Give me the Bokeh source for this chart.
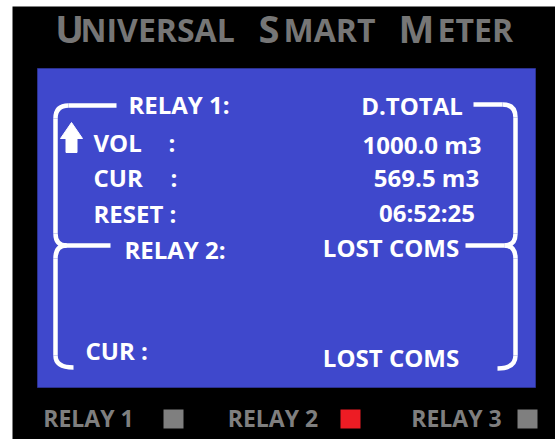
from bokeh.plotting import figure
from bokeh.models import Range1d
from bokeh.embed import file_html
from bokeh.resources import INLINE
from bokeh.core.properties import value

# ---- content ----
title_big = ["U", "S", "M"]
title_small = ["NIVERSAL", "MART", "ETER"]
relay1_label = "RELAY 1:"
relay2_label = "RELAY 2:"
total_label = "D.TOTAL"
row_labels = ["VOL", "CUR", "RESET :"]
row_colons = [":", ":", ""]
row_values = ["1000.0 m3", "569.5 m3", "06:52:25"]
relay2_status = "LOST COMS"
relay2_cur_label = "CUR :"
relay2_cur_value = "LOST COMS"
relay_names = ["RELAY 1", "RELAY 2", "RELAY 3"]
relay_colors = ["#7F7F7F", "#ED1C24", "#7F7F7F"]

FONT = value("Open Sans")
BLUE = "#3F48CC"
GREY = "#767676"

p = figure(width=555, height=439, x_range=Range1d(0, 555), y_range=Range1d(439, 0),
           output_backend="svg", toolbar_location=None, min_border=0)
p.axis.visible = False
p.grid.visible = False
p.outline_line_color = None
p.background_fill_color = "white"
p.border_fill_color = "white"

# black device body and blue screen
p.quad(left=[12], right=[555], top=[6], bottom=[439], fill_color="black", line_color=None)
p.quad(left=[37], right=[535], top=[68], bottom=[387], fill_color=BLUE, line_color="#2B318F", line_width=1)

# title with small caps (baseline offsets compensate the renderer's text placement)
big_x = [69, 268.5, 416]
small_x = [80, 283, 437]
p.text(x=big_x, y=[27] * 3, text=title_big, text_font=FONT, text_font_style="bold",
       text_font_size="38px", text_color=GREY, text_baseline="alphabetic", text_align="center")
p.text(x=small_x, y=[29] * 3, text=title_small, text_font=FONT, text_font_style="bold",
       text_font_size="32px", text_color=GREY, text_baseline="alphabetic", text_align="left")

W = "white"
kw = dict(text_font=FONT, text_font_style="bold", text_font_size="24px",
          text_color=W, text_baseline="alphabetic")
d = 11
p.text(x=[178.5], y=[115 - d], text=[relay1_label], text_align="center", **kw)
p.text(x=[411.5], y=[116 - d], text=[total_label], text_align="center", **kw)
p.text(x=[93, 93, 93], y=[153 - d, 188 - d, 224 - d], text=row_labels, text_align="left", **kw)
p.text(x=[168, 170, 170], y=[153 - d, 188 - d, 224 - d], text=row_colons, text_align="left", **kw)
p.text(x=[421.5, 426, 426.5], y=[155 - d, 188 - d, 223 - d], text=row_values, text_align="center", **kw)
p.text(x=[174.5], y=[260 - d], text=[relay2_label], text_align="center", **kw)
p.text(x=[390.5], y=[258 - d], text=[relay2_status], text_align="center", **kw)
p.text(x=[85], y=[361 - d], text=[relay2_cur_label], text_align="left", **kw)
p.text(x=[390.5], y=[368 - d], text=[relay2_cur_value], text_align="center", **kw)

# brackets
lw = 4.5
segs_x0 = [116, 55, 62, 55, 473, 515, 465, 515]
segs_y0 = [105, 118, 245, 258, 104, 117, 245, 258]
segs_x1 = [68, 55, 110, 55, 502, 515, 504, 515]
segs_y1 = [105, 233, 245, 355, 104, 233, 245, 355]
p.segment(x0=segs_x0, y0=segs_y0, x1=segs_x1, y1=segs_y1, line_color=W, line_width=lw)
q_x0 = [68, 55, 66, 55, 502, 515, 504, 515]
q_y0 = [105, 233, 245, 355, 104, 233, 245, 355]
q_cx = [55, 55, 55, 55, 515, 515, 515, 515]
q_cy = [105, 245, 245, 367, 104, 245, 245, 368]
q_x1 = [55, 66, 55, 73, 515, 504, 515, 497]
q_y1 = [118, 245, 258, 367, 117, 245, 258, 368]
p.quadratic(x0=q_x0, y0=q_y0, x1=q_x1, y1=q_y1, cx=q_cx, cy=q_cy, line_color=W, line_width=lw)

# up arrow
p.patch(x=[71, 82, 76.5, 76.5, 65.5, 65.5, 60], y=[122, 138, 138, 152, 152, 138, 138],
        fill_color=W, line_color=W, line_width=1)

# bottom relay indicators
name_x = [88, 272.5, 456]
sq_x = [163, 340, 517]
p.text(x=name_x, y=[417] * 3, text=relay_names, text_font=FONT, text_font_style="bold",
       text_font_size="23px", text_color="#7F7F7F", text_baseline="alphabetic", text_align="center")
p.quad(left=sq_x, right=[x + 20 for x in sq_x], top=[409] * 3, bottom=[428] * 3,
       fill_color=relay_colors, line_color=None)

open("out.html", "w").write(file_html(p, INLINE))
